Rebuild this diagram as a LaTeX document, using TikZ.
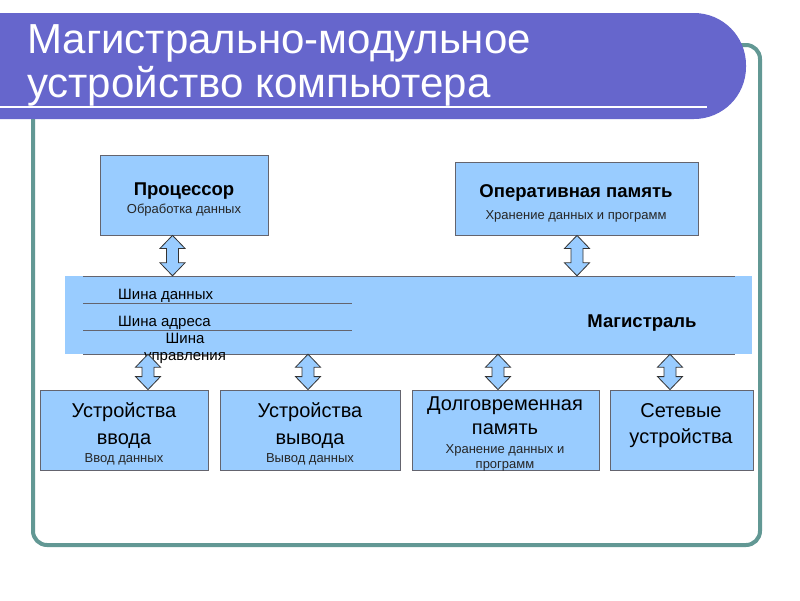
\documentclass[tikz,border=0pt]{standalone}
\usepackage{fontspec}
\setmainfont{Liberation Sans}
\usetikzlibrary{calc,fit}
\definecolor{banner}{RGB}{102,102,204}
\definecolor{frameteal}{RGB}{98,152,148}
\definecolor{boxblue}{RGB}{153,204,255}
\definecolor{boxline}{RGB}{100,100,110}
\newcommand\bidir[2]{%
  \draw[bidirstyle] (#1) -- ++(12.5,13) -- ++(-6.5,0) -- ($(#2)+(6,-13)$) -- ++(6.5,0) -- (#2)
    -- ++(-12.5,-13) -- ++(6.5,0) -- ($(#1)+(-6,13)$) -- ++(-6.5,0) -- cycle;}
\begin{document}
\begin{tikzpicture}[x=1pt,y=-1pt,
  box/.style={draw=boxline, fill=boxblue, line width=0.8pt, inner sep=0pt},
  bigtxt/.style={anchor=base, inner sep=0pt, font=\fontsize{20}{24}\selectfont},
  smalltxt/.style={anchor=base, inner sep=0pt, font=\fontsize{13}{15}\selectfont, text=black!85},
  boldtxt/.style={anchor=base, inner sep=0pt, font=\bfseries\fontsize{18.5}{22}\selectfont},
  bustxt/.style={anchor=base, inner sep=0pt, font=\fontsize{15}{18}\selectfont},
  titletxt/.style={anchor=base west, inner sep=0pt, text=white, font=\fontsize{42}{48}\selectfont},
  busline/.style={draw=boxline, line width=0.8pt},
  bidirstyle/.style={draw=black!80, fill=boxblue, line width=0.8pt, line join=miter}
]
\useasboundingbox (0,0) rectangle (800,600);
\fill[white] (0,0) rectangle (800,600);
% frame
\draw[frameteal, line width=4pt, rounded corners=14] (33,45) rectangle (760,545);
% banner
\fill[banner, rounded corners=52] (-80,13) rectangle (746,119);
\node[titletxt] (t1) at (27,53) {Магистрально-модульное};
\node[titletxt] (t2) at (27,97) {устройство компьютера};
\coordinate (ulA) at (-5,107);
\coordinate (ulB) at (707,107);
\draw[white, line width=2pt] (ulA) -- (ulB);

% top boxes
\node[box, fit={(100,155) (268,235)}] (proc) {};
\node[boldtxt] (proct) at (184,195) {Процессор};
\node[smalltxt] (procs) at (184,213) {Обработка данных};
\node[box, fit={(455,162) (698,235)}] (ram) {};
\node[boldtxt] (ramt) at (576,197) {Оперативная память};
\node[smalltxt] (rams) at (576,219) {Хранение данных и программ};

% bus
\node[fill=boxblue, inner sep=0pt, fit={(65,276) (752,354)}] (bus) {};
\draw[busline] (83,276) -- (735,276);
\draw[busline] (83,354) -- (735,354);
\draw[busline] (83,303) -- (352,303);
\draw[busline] (83,330) -- (352,330);
\node[bustxt, anchor=base west] (b1) at (118,299) {Шина данных};
\node[bustxt, anchor=base west] (b2) at (118,326) {Шина адреса};
\node[bustxt] (b3) at (185,343) {Шина};
\node[bustxt] (b4) at (185,360) {управления};
\node[boldtxt] (busname) at (642,327) {Магистраль};

% bottom boxes
\node[box, fit={(40,390) (208,470)}] (inp) {};
\node[bigtxt] at (124,417) {Устройства};
\node[bigtxt] at (124,444) {ввода};
\node[smalltxt] at (124,462) {Ввод данных};

\node[box, fit={(220,390) (400,470)}] (outp) {};
\node[bigtxt] at (310,417) {Устройства};
\node[bigtxt] at (310,444) {вывода};
\node[smalltxt] at (310,462) {Вывод данных};

\node[box, fit={(412,390) (599,470)}] (hdd) {};
\node[bigtxt] at (505,410) {Долговременная};
\node[bigtxt] at (505,434) {память};
\node[smalltxt] at (505,453) {Хранение данных и};
\node[smalltxt] at (505,468) {программ};

\node[box, fit={(610,390) (753,470)}] (net) {};
\node[bigtxt] at (681,417) {Сетевые};
\node[bigtxt] at (681,443) {устройства};

% arrows
\coordinate (x1) at (172.5,0);
\coordinate (x2) at (577,0);
\coordinate (x3) at (148,0);
\coordinate (x4) at (308,0);
\coordinate (x5) at (498,0);
\coordinate (x6) at (670,0);
\coordinate (a1t) at (x1 |- proc.south);
\coordinate (a1b) at (x1 |- bus.north);
\coordinate (a2t) at (x2 |- ram.south);
\coordinate (a2b) at (x2 |- bus.north);
\coordinate (a3t) at (x3 |- bus.south);
\coordinate (a3b) at (x3 |- inp.north);
\coordinate (a4t) at (x4 |- bus.south);
\coordinate (a4b) at (x4 |- outp.north);
\coordinate (a5t) at (x5 |- bus.south);
\coordinate (a5b) at (x5 |- hdd.north);
\coordinate (a6t) at (x6 |- bus.south);
\coordinate (a6b) at (x6 |- net.north);
\bidir{a1t}{a1b}
\bidir{a2t}{a2b}
\bidir{a3t}{a3b}
\bidir{a4t}{a4b}
\bidir{a5t}{a5b}
\bidir{a6t}{a6b}
\end{tikzpicture}
\end{document}
